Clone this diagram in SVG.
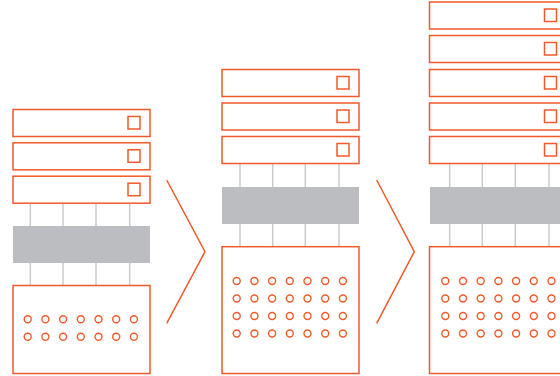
<svg xmlns="http://www.w3.org/2000/svg" width="560" height="376" viewBox="0 0 560 376">
<defs>
<style>
.b{fill:#fff;stroke:#f15a2b;stroke-width:1.5}
.s{fill:none;stroke:#f15a2b;stroke-width:1.5}
.g{fill:#bcbdc0}
.l{stroke:#cbcbcb;stroke-width:1.5}
.c{fill:none;stroke:#f15a2b;stroke-width:1.4}
.ch{fill:none;stroke:#f15a2b;stroke-width:1.5}
</style>
<g id="slot"><rect class="b" x="0" y="0" width="137" height="27"/><rect class="s" x="115" y="7" width="12" height="12.5"/></g>
<g id="row7"><circle class="c" cx="0" cy="0" r="3.5"/><circle class="c" cx="17.7" cy="0" r="3.5"/><circle class="c" cx="35.4" cy="0" r="3.5"/><circle class="c" cx="53.1" cy="0" r="3.5"/><circle class="c" cx="70.8" cy="0" r="3.5"/><circle class="c" cx="88.5" cy="0" r="3.5"/><circle class="c" cx="106.2" cy="0" r="3.5"/></g>
</defs>
<g id="connectors">
<g class="l">
<line x1="30.3" y1="203.5" x2="30.3" y2="226"/><line x1="63" y1="203.5" x2="63" y2="226"/><line x1="96" y1="203.5" x2="96" y2="226"/><line x1="129.7" y1="203.5" x2="129.7" y2="226"/>
<line x1="30.3" y1="263" x2="30.3" y2="285.5"/><line x1="63" y1="263" x2="63" y2="285.5"/><line x1="96" y1="263" x2="96" y2="285.5"/><line x1="129.7" y1="263" x2="129.7" y2="285.5"/>
<line x1="240" y1="163.5" x2="240" y2="187"/><line x1="272.7" y1="163.5" x2="272.7" y2="187"/><line x1="305.3" y1="163.5" x2="305.3" y2="187"/><line x1="339" y1="163.5" x2="339" y2="187"/>
<line x1="240" y1="224" x2="240" y2="246.7"/><line x1="272.7" y1="224" x2="272.7" y2="246.7"/><line x1="305.3" y1="224" x2="305.3" y2="246.7"/><line x1="339" y1="224" x2="339" y2="246.7"/>
<line x1="449.7" y1="163.5" x2="449.7" y2="187"/><line x1="482.3" y1="163.5" x2="482.3" y2="187"/><line x1="515.3" y1="163.5" x2="515.3" y2="187"/><line x1="549" y1="163.5" x2="549" y2="187"/>
<line x1="449.7" y1="224" x2="449.7" y2="246.7"/><line x1="482.3" y1="224" x2="482.3" y2="246.7"/><line x1="515.3" y1="224" x2="515.3" y2="246.7"/><line x1="549" y1="224" x2="549" y2="246.7"/>
</g>
<polyline class="ch" points="166.7,180 205,251.7 166.7,323.3"/>
<polyline class="ch" points="376.7,180 414.3,251.7 376.7,323.3"/>
</g>
<g id="stage1">
<use href="#slot" x="13" y="109.5"/>
<use href="#slot" x="13" y="142.8"/>
<use href="#slot" x="13" y="176.2"/>
<rect class="g" x="13" y="226" width="137" height="37"/>
<rect class="b" x="13" y="285.5" width="137" height="88"/>
<use href="#row7" x="27.7" y="319.3"/>
<use href="#row7" x="27.7" y="336.7"/>
</g>
<g id="stage2">
<use href="#slot" x="222" y="69.5"/>
<use href="#slot" x="222" y="103"/>
<use href="#slot" x="222" y="136.5"/>
<rect class="g" x="222" y="187" width="137" height="37"/>
<rect class="b" x="222" y="246.7" width="137" height="126.8"/>
<use href="#row7" x="236.7" y="281"/>
<use href="#row7" x="236.7" y="298.5"/>
<use href="#row7" x="236.7" y="316"/>
<use href="#row7" x="236.7" y="333.5"/>
</g>
<g id="stage3">
<use href="#slot" x="429.5" y="2"/>
<use href="#slot" x="429.5" y="35.5"/>
<use href="#slot" x="429.5" y="69.5"/>
<use href="#slot" x="429.5" y="103"/>
<use href="#slot" x="429.5" y="136.5"/>
<rect class="g" x="430" y="187" width="137" height="37"/>
<rect class="b" x="429.5" y="246.7" width="137" height="126.8"/>
<use href="#row7" x="445.3" y="281"/>
<use href="#row7" x="445.3" y="298.5"/>
<use href="#row7" x="445.3" y="316"/>
<use href="#row7" x="445.3" y="333.5"/>
</g>
</svg>
